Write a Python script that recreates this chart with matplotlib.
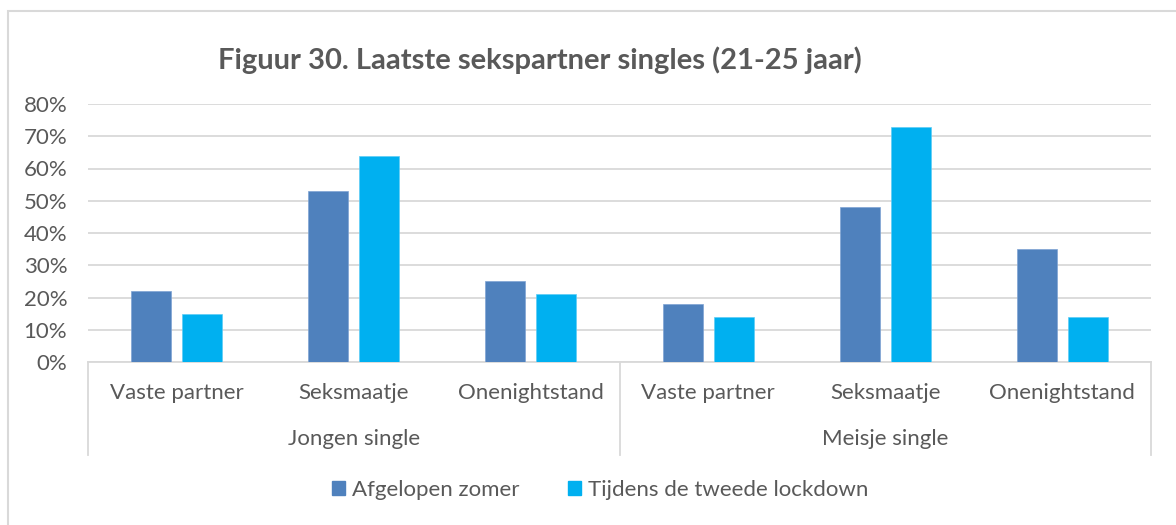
import matplotlib
matplotlib.use("Agg")
import matplotlib.pyplot as plt
from matplotlib.patches import Rectangle
from matplotlib.lines import Line2D
import numpy as np

plt.rcParams['font.family'] = ['Lato', 'DejaVu Sans']

subcats = ["Vaste partner", "Seksmaatje", "Onenightstand",
           "Vaste partner", "Seksmaatje", "Onenightstand"]
groups = ["Jongen single", "Meisje single"]
series_names = ["Afgelopen zomer", "Tijdens de tweede lockdown"]
zomer = [22, 53, 25, 18, 48, 35]
lockdown = [15, 64, 21, 14, 73, 14]
yticks = [0, 10, 20, 30, 40, 50, 60, 70, 80]

c1 = "#4F81BD"
c2 = "#00B0F0"
grid_c = "#D9D9D9"
txt_c = "#595959"

W, H = 1176, 525
fig = plt.figure(figsize=(W / 100, H / 100), dpi=100)

# figure border (left/top visible)
fig.add_artist(Rectangle((8 / W, -0.1), 1.2, 1 - 11 / H + 0.1, transform=fig.transFigure,
                         fill=False, edgecolor="#D9D9D9", linewidth=1.5))

x0, x1 = 88, 1151
y0, y1 = 362, 104
ax = fig.add_axes([x0 / W, 1 - y0 / H, (x1 - x0) / W, (y0 - y1) / H])

n = len(subcats)
x = np.arange(n)
bw = 0.226
off = 0.144
ax.bar(x - off, zomer, bw, color=c1, edgecolor="#7EA3D3", linewidth=0.5, zorder=3)
ax.bar(x + off, lockdown, bw, color=c2, edgecolor="#5FCCF5", linewidth=0.5, zorder=3)

ax.set_xlim(-0.5, n - 0.5)
ax.set_ylim(0, 80)
ax.set_yticks(yticks)
ax.set_yticklabels([f"{v}%" for v in yticks], fontsize=16, color=txt_c)
ax.yaxis.grid(True, color=grid_c, linewidth=1.3, zorder=0)
ax.set_axisbelow(True)
for s in ["top", "right", "left"]:
    ax.spines[s].set_visible(False)
ax.spines["bottom"].set_color(grid_c)
ax.spines["bottom"].set_linewidth(1.3)
ax.tick_params(axis="y", length=0, pad=15)
ax.set_xticks([])

def py(ypix):
    return -(ypix - y0) / (y0 - y1) * 80

# category labels
for i, lab in enumerate(subcats):
    ax.text(i, py(393), lab, ha="center", va="center", fontsize=16, color=txt_c, clip_on=False)
# group labels
for gi, g in enumerate(groups):
    ax.text(gi * 3 + 1, py(439), g, ha="center", va="center", fontsize=16, color=txt_c, clip_on=False)
# divider lines
for xv in [-0.5, 2.5, 5.5]:
    ax.add_line(Line2D([xv, xv], [0, py(455)], color=grid_c, linewidth=1.3, clip_on=False))

fig.text(540 / W, 1 - 60 / H, "Figuur 30. Laatste sekspartner singles (21-25 jaar)",
         ha="center", va="center", fontsize=21, fontweight="bold", color=txt_c)

handles = [Rectangle((0, 0), 1, 1, color=c1), Rectangle((0, 0), 1, 1, color=c2)]
fig.legend(handles, series_names, loc="center", bbox_to_anchor=(600 / W, 1 - 490 / H),
           ncol=2, frameon=False, fontsize=16, labelcolor=txt_c,
           handlelength=0.6, handleheight=0.6, handletextpad=0.3, columnspacing=2.2)

fig.savefig("out.png", dpi=100, facecolor="white")
